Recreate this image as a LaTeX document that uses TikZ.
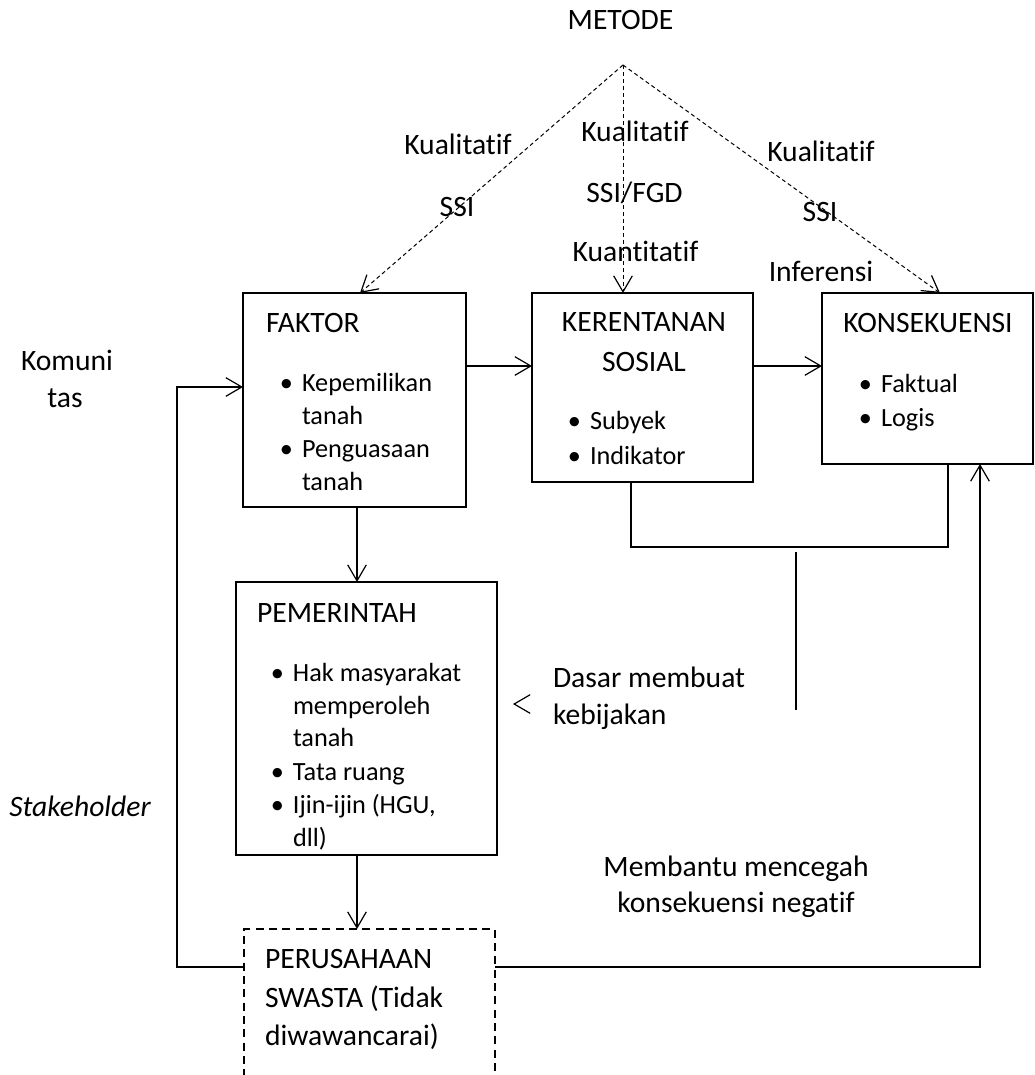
\documentclass[tikz,border=0pt]{standalone}
\usepackage{fontspec}
\setmainfont{Carlito}[Ligatures=NoCommon]
\usetikzlibrary{arrows.meta,calc}
\newdimen\px \px=0.75pt
\newcommand\bul{\llap{\makebox[23.25pt][c]{•}}}
\begin{document}
\begin{tikzpicture}[x=0.75pt,y=-0.75pt,
  box/.style={draw,line width=1.5pt,inner sep=0,outer sep=0},
  dbox/.style={draw,line width=1.5pt,dash pattern=on 6pt off 4pt,inner sep=0,outer sep=0},
  txt/.style={inner sep=0,outer sep=0,font=\fontsize{22.2}{26}\selectfont},
  lt/.style={txt,anchor=base west},
  ct/.style={txt,anchor=base},
  it/.style={inner sep=0,outer sep=0,anchor=base west,font=\fontsize{19.7}{24}\selectfont},
  tip/.style={-{Straight Barb[length=12pt,width=14pt,line width=0.9pt]}},
  con/.style={line width=0.9pt},
  arr/.style={con,tip},
  darr/.style={line width=0.75pt,dash pattern=on 3pt off 2.25pt,tip}]
\clip (0,0) rectangle (1035,1075);
\fill[white] (0,0) rectangle (1035,1075);

% boxes
\node[box,minimum width=223\px,minimum height=214\px] (faktor) at (354.5,400) {};
\node[box,minimum width=221\px,minimum height=189\px] (kerent) at (642.5,387.5) {};
\node[box,minimum width=211\px,minimum height=171\px] (konsek) at (927.5,378.5) {};
\node[box,minimum width=261\px,minimum height=273\px] (pemer) at (366.5,718.5) {};
\node[dbox,minimum width=251\px,minimum height=171\px] (perus) at (369.5,1014.5) {};

% helper coordinates
\coordinate (apex) at (623,65);
\coordinate (xl) at (360,0);
\coordinate (xr) at (940,0);
\coordinate (row1) at (0,366);
\coordinate (kleft) at (177,387);
\coordinate (xdown) at (357,0);
\coordinate (m1) at (631,547);
\coordinate (m2) at (948,547);
\coordinate (s1) at (796,552);
\coordinate (s2) at (796,710);
\coordinate (ltip) at (513,704);
\coordinate (ltail) at (514,704);
\coordinate (lowrow) at (0,967);
\coordinate (rcol) at (980,0);

% texts top
\node[ct] (metode) at (620.5,29) {METODE};
\node[ct] (kl1) at (458,154) {Kualitatif};
\node[ct] (ssi1) at (457,216) {SSI};
\node[ct] (kl2) at (635,141) {Kualitatif};
\node[ct] (ssi2) at (634.5,202) {SSI/FGD};
\node[ct] (kn2) at (635.5,261) {Kuantitatif};
\node[ct] (kl3) at (821,161) {Kualitatif};
\node[ct] (ssi3) at (820,221) {SSI};
\node[ct] (inf3) at (821,281) {Inferensi};

% side texts
\node[ct] (kom1) at (67,370) {Komuni};
\node[ct] (kom2) at (65,407) {tas};
\node[ct] (stake) at (80,816) {\itshape Stakeholder};
\node[lt] (dasar1) at (553,687) {Dasar membuat};
\node[lt] (dasar2) at (553,724) {kebijakan};
\node[ct] (mb1) at (736,876) {Membantu mencegah};
\node[ct] (mb2) at (736,912) {konsekuensi negatif};

% FAKTOR
\node[lt] (f0) at (266,332) {FAKTOR};
\node[it] (f1) at (302,391) {\bul Kepemilikan};
\node[it] (f2) at (302,424) {tanah};
\node[it] (f3) at (302,457) {\bul Penguasaan};
\node[it] (f4) at (302,490) {tanah};

% KERENTANAN
\node[ct] (k0) at (644,331) {KERENTANAN};
\node[ct] (k1) at (644,371) {SOSIAL};
\node[it] (k2) at (590,429) {\bul Subyek};
\node[it] (k3) at (590,464) {\bul Indikator};

% KONSEKUENSI
\node[ct] (c0) at (928,332) {KONSEKUENSI};
\node[it] (c1) at (881,392) {\bul Faktual};
\node[it] (c2) at (881,426) {\bul Logis};

% PEMERINTAH
\node[lt] (p0) at (257,622) {PEMERINTAH};
\node[it] (p1) at (293,681) {\bul Hak masyarakat};
\node[it] (p2) at (293,714) {memperoleh};
\node[it] (p3) at (293,746) {tanah};
\node[it] (p4) at (293,780) {\bul Tata ruang};
\node[it] (p5) at (293,813) {\bul Ijin-ijin (HGU,};
\node[it] (p6) at (293,846) {dll)};

% PERUSAHAAN
\node[lt] (u0) at (265,968) {PERUSAHAAN};
\node[lt] (u1) at (265,1007) {SWASTA (Tidak};
\node[lt] (u2) at (265,1045) {diwawancarai)};

% dashed method arrows
\draw[darr] (apex) -- (faktor.north -| xl);
\draw[darr] (apex) -- (kerent.north -| apex);
\draw[darr] (apex) -- (konsek.north -| xr);

% solid connectors
\draw[arr] (faktor.east |- row1) -- (kerent.west |- row1);
\draw[arr] (kerent.east |- row1) -- (konsek.west |- row1);
\draw[arr] (faktor.south -| xdown) -- (pemer.north -| xdown);
\draw[arr] (pemer.south -| xdown) -- (perus.north -| xdown);
\draw[arr] (perus.west |- lowrow) -| (kleft) -- (faktor.west |- kleft);
\draw[arr] (perus.east |- lowrow) -| (konsek.south -| rcol);
\draw[con] (kerent.south -| m1) -- (m1) -- (m2) -- (konsek.south -| m2);
\draw[con] (s1) -- (s2);
\draw[arr] (ltail) -- (ltip);
\end{tikzpicture}
\end{document}
